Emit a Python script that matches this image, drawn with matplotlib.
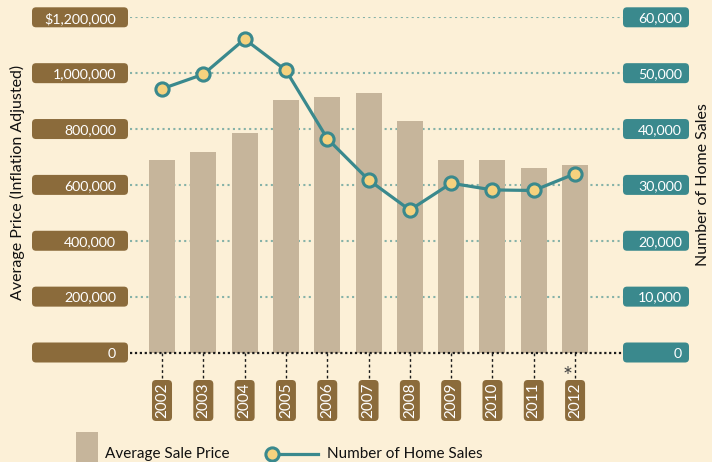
import matplotlib
matplotlib.use("Agg")
import matplotlib.pyplot as plt
from matplotlib.patches import FancyBboxPatch, Rectangle
from matplotlib.lines import Line2D
from matplotlib.transforms import IdentityTransform

plt.rcParams['font.family'] = ['Lato', 'DejaVu Sans']

# Data
years = ["2002", "2003", "2004", "2005", "2006", "2007", "2008", "2009", "2010", "2011", "2012"]
avg_price = [689000, 718000, 786000, 904000, 915000, 929000, 829000, 689000, 689000, 660000, 671000]
home_sales = [47200, 49800, 56100, 50500, 38300, 30900, 25500, 30300, 29100, 29000, 32000]
price_ticks = [0, 200000, 400000, 600000, 800000, 1000000, 1200000]
price_tick_labels = ["0", "200,000", "400,000", "600,000", "800,000", "1,000,000", "$1,200,000"]
sales_ticks = [0, 10000, 20000, 30000, 40000, 50000, 60000]
sales_tick_labels = ["0", "10,000", "20,000", "30,000", "40,000", "50,000", "60,000"]

BG = "#FCF0D7"
BAR = "#C6B59B"
BROWN = "#8B6B3B"
TEAL = "#3A898D"
MARKER = "#F6D27E"
GRID = "#86B2A8"

W, H = 712, 462
fig = plt.figure(figsize=(W / 100, H / 100), dpi=100, facecolor=BG)
ax = fig.add_axes([130 / W, (H - 352.5) / H, (623 - 130) / W, (352.5 - 17.3) / H])
ax.patch.set_visible(False)
for s in ax.spines.values():
    s.set_visible(False)

x = list(range(len(years)))
ax.set_xlim(-0.775, 11.16)
ax.set_ylim(0, 1200000)
ax.set_xticks([])
ax.set_yticks([])

# Dotted grid lines
for v in price_ticks[1:]:
    ax.axhline(v, color=GRID, lw=1.5, linestyle=(0, (1, 1.6)), zorder=1)

ax.bar(x, avg_price, width=0.63, color=BAR, zorder=2)

# Zero baseline
ax.axhline(0, color="#1a1a1a", lw=1.6, linestyle=(0, (1, 1.2)), zorder=3, clip_on=False)

ax2 = ax.twinx()
ax2.set_ylim(0, 60000)
ax2.set_xlim(ax.get_xlim())
ax2.set_yticks([])
for s in ax2.spines.values():
    s.set_visible(False)
ax2.plot(x, home_sales, color=TEAL, lw=2.3, marker="o", markersize=9.5,
         markerfacecolor=MARKER, markeredgecolor=TEAL, markeredgewidth=2.2,
         zorder=5, clip_on=False)

ident = IdentityTransform()


def pill(x0, y0, w, h, color, r=4):
    p = FancyBboxPatch((x0, y0), w, h, boxstyle=f"round,pad=0,rounding_size={r}",
                       transform=ident, facecolor=color, edgecolor="none", zorder=6)
    fig.patches.append(p)


def to_disp_y(px_from_top):
    return H - px_from_top


# Left tick boxes
for v, lab in zip(price_ticks, price_tick_labels):
    yd = ax.transData.transform((0, v))[1]
    pill(32, yd - 10, 96, 20, BROWN)
    fig.text(116 / W, yd / H, lab, ha="right", va="center_baseline", color="white",
             fontsize=10.2, zorder=7)

# Right tick boxes
for v, lab in zip(sales_ticks, sales_tick_labels):
    yd = ax2.transData.transform((0, v))[1]
    pill(623, yd - 10, 66, 20, TEAL)
    fig.text(682 / W, yd / H, lab, ha="right", va="center_baseline", color="white",
             fontsize=10.2, zorder=7)

# Year labels with dotted leaders
for xi, yr in zip(x, years):
    xd = ax.transData.transform((xi, 0))[0]
    fig.lines.append(Line2D([xd, xd], [to_disp_y(353), to_disp_y(380)], transform=ident,
                            color="#1a1a1a", lw=1.0, linestyle=(0, (2, 2))))
    pill(xd - 10, to_disp_y(421), 20, 41, BROWN)
    fig.text(xd / W, to_disp_y(400.5) / H, yr, rotation=90, ha="center", va="center",
             color="white", fontsize=11, zorder=7)

xd_last = ax.transData.transform((x[-1], 0))[0]
fig.text((xd_last - 8) / W, to_disp_y(377) / H, "*", ha="center", va="center",
         color="#444444", fontsize=17)

# Axis titles
fig.text(17 / W, to_disp_y(182) / H, "Average Price (Inflation Adjusted)", rotation=90,
         ha="center", va="center", fontsize=11.5, color="#111111")
fig.text(703 / W, to_disp_y(185) / H, "Number of Home Sales", rotation=90,
         ha="center", va="center", fontsize=11.5, color="#111111")

# Legend
fig.patches.append(Rectangle((76, to_disp_y(466)), 22, 34, transform=ident,
                             facecolor=BAR, edgecolor="none"))
fig.text(105 / W, to_disp_y(454) / H, "Average Sale Price", ha="left", va="center",
         fontsize=11, color="#111111")
fig.lines.append(Line2D([272, 318], [to_disp_y(454), to_disp_y(454)], transform=ident,
                        color=TEAL, lw=2.3))
fig.lines.append(Line2D([272], [to_disp_y(454)], transform=ident, marker="o",
                        markersize=9.5, markerfacecolor=MARKER, markeredgecolor=TEAL,
                        markeredgewidth=2.2, linestyle="none"))
fig.text(327 / W, to_disp_y(454) / H, "Number of Home Sales", ha="left", va="center",
         fontsize=11, color="#111111")

fig.savefig("out.png", dpi=100, facecolor=BG)
